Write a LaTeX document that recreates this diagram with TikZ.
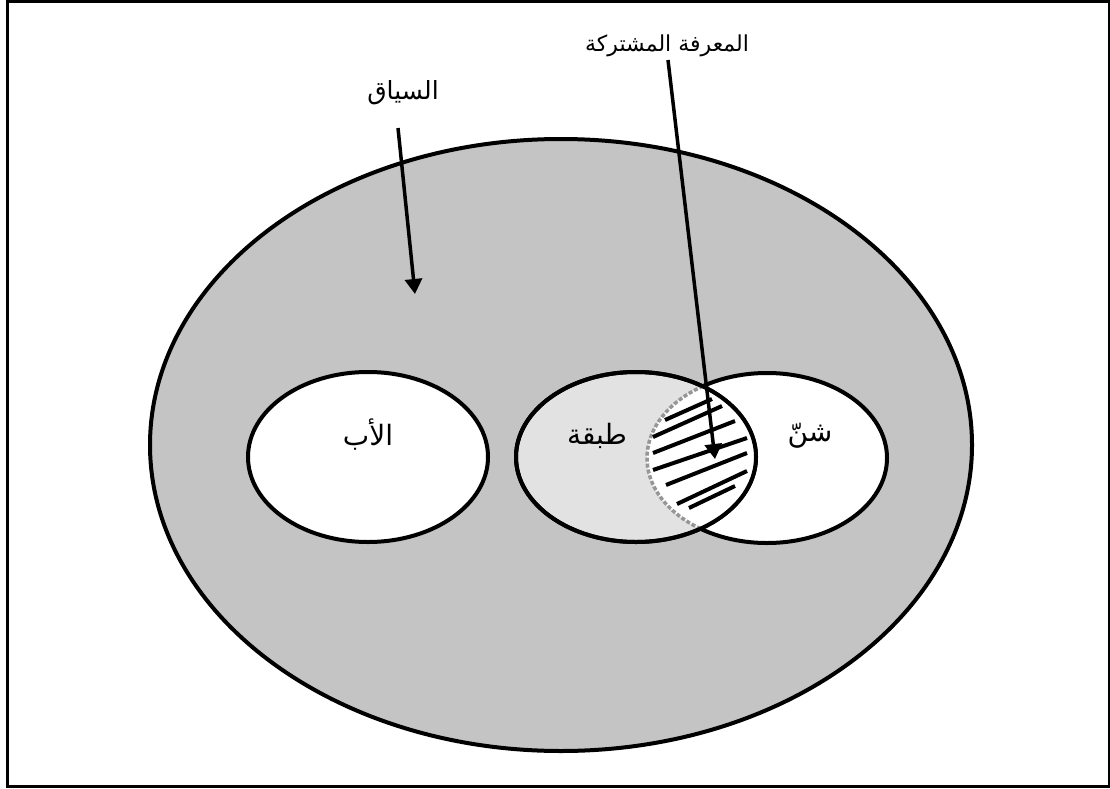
\documentclass[tikz,border=0pt]{standalone}
\usepackage{fontspec}
\usetikzlibrary{shapes.geometric,arrows.meta}
\TeXXeTstate=1
\newfontfamily\arabicfont[Script=Arabic]{DejaVu Sans}
\definecolor{ctxgray}{RGB}{196,196,196}
\definecolor{classgray}{RGB}{226,226,226}
\definecolor{dashgray}{RGB}{150,150,150}
\tikzset{
  oval/.style={ellipse, draw=black, line width=4pt, inner sep=0pt, minimum width=240pt, minimum height=170pt},
  lbl/.style={inner sep=1pt, font=\arabicfont\fontsize{28}{32}\selectfont},
  hatch/.style={line width=4pt, black},
  pointer/.style={line width=3.5pt, -{Triangle[length=15pt,width=17pt]}}
}
\begin{document}
\begin{tikzpicture}[x=1pt,y=-1pt]
\useasboundingbox (0,0) rectangle (1110,789);
\draw[line width=3pt] (7.5,1.5) rectangle (1109.5,786.5);
% context ellipse
\node[ellipse, fill=ctxgray, draw=black, line width=4pt, inner sep=0pt, minimum width=822pt, minimum height=612pt] (ctx) at (561,445) {};
% father
\node[oval, fill=white] (ab) at (368,457) {};
% shan
\node[oval, fill=white] (shan) at (767,458) {};
% tabaqa
\node[oval, fill=classgray] (tab) at (636,457) {};
% overlap
\begin{scope}
  \clip (636,457) ellipse [x radius=120pt, y radius=85pt];
  \fill[white] (767,458) ellipse [x radius=120pt, y radius=85pt];
  \draw[dashgray, line width=3.5pt, dash pattern=on 4pt off 2pt] (767,458) ellipse [x radius=120pt, y radius=85pt];
\end{scope}
\draw[black, line width=4pt] (636,457) ellipse [x radius=120pt, y radius=85pt];
% hatch lines
\draw[hatch] (665,420) -- (712,399);
\draw[hatch] (653,437) -- (722,406);
\draw[hatch] (653,453) -- (735,421);
\draw[hatch] (653,470) -- (747,438);
\draw[hatch] (666,485) -- (747,453);
\draw[hatch] (677,504) -- (747,471);
\draw[hatch] (689,508) -- (735,486);
% labels
\node[lbl] (tab-l) at (597,436) {\beginR طبقة\endR};
\node[lbl] (ab-l) at (368,435) {\beginR الأب\endR};
\node[lbl] (shan-l) at (810,436) {\beginR شنّ\endR};
\node[lbl, font=\arabicfont\fontsize{25}{29}\selectfont] (ctx-l) at (403,93) {\beginR السياق\endR};
\node[lbl, font=\arabicfont\fontsize{22}{26}\selectfont] (common-l) at (667,46) {\beginR المعرفة المشتركة\endR};
% arrows
\coordinate (a1s) at (398,128);
\coordinate (a1e) at (415,294);
\coordinate (a2s) at (668,60);
\coordinate (a2e) at (715,459);
\draw[pointer] (a1s) -- (a1e);
\draw[pointer] (a2s) -- (a2e);
\end{tikzpicture}
\end{document}
